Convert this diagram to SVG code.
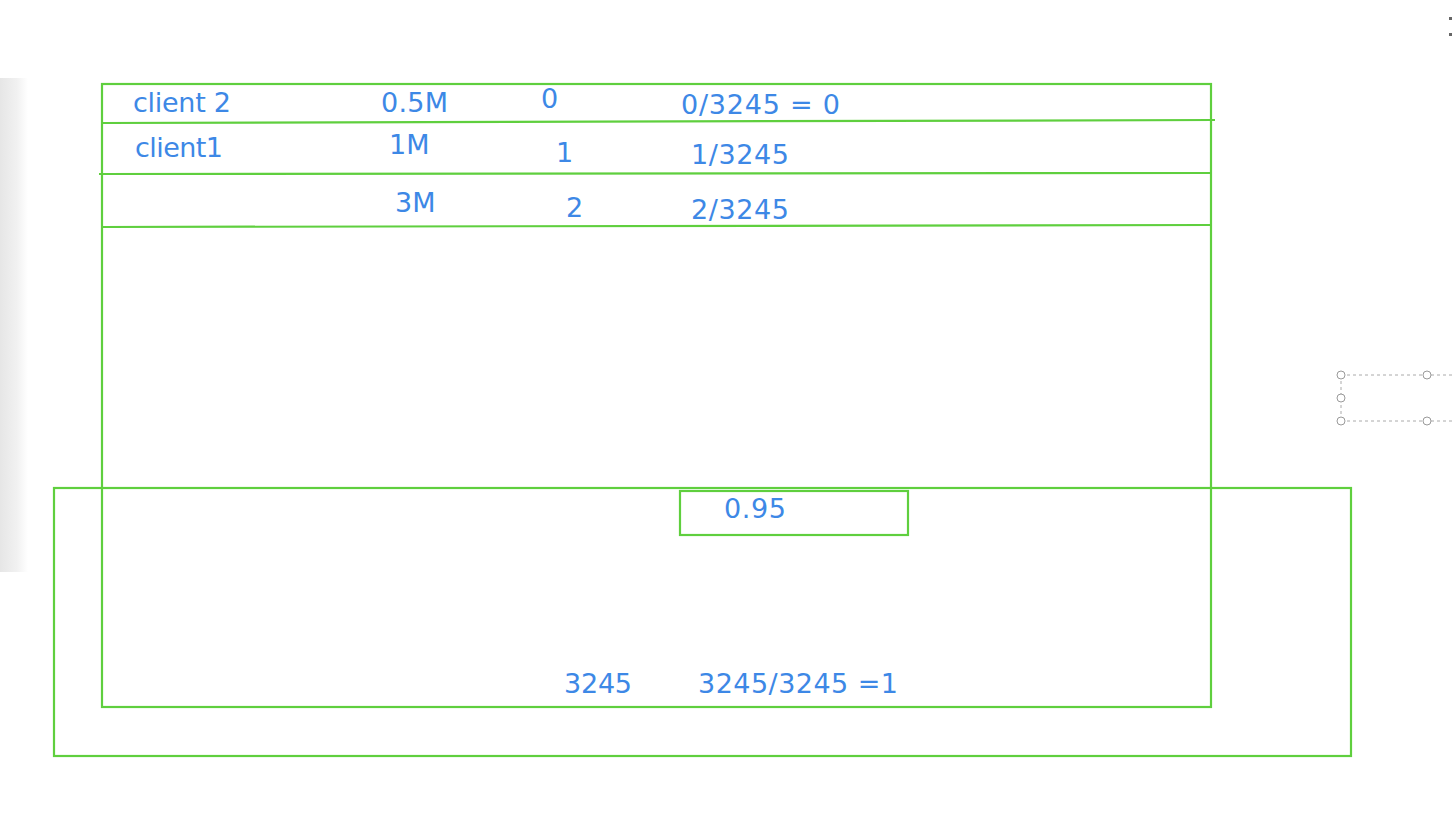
<svg xmlns="http://www.w3.org/2000/svg" width="1452" height="819" viewBox="0 0 1452 819">
<defs>
<style>
.g{fill:none;stroke:#5fcf3e;stroke-width:2.2}
.t{font-family:"DejaVu Sans","Verdana",sans-serif;font-size:27px;fill:#3d88e6}
.h{fill:#fff;stroke:#9a9a9a;stroke-width:1}
.d{stroke:#aaa;stroke-width:1;stroke-dasharray:3 3;fill:none}
</style>
<linearGradient id="sh" x1="0" x2="1" y1="0" y2="0">
<stop offset="0" stop-color="#e6e6e6"/>
<stop offset="0.6" stop-color="#f1f1f1"/>
<stop offset="1" stop-color="#ffffff"/>
</linearGradient>
</defs>
<rect width="1452" height="819" fill="#ffffff"/>
<rect x="0" y="78" width="28" height="494" fill="url(#sh)"/>

<g id="outer-box"><rect class="g" x="54" y="488" width="1297" height="268"/></g>
<g id="table">
<rect class="g" x="102" y="84" width="1109" height="623"/>
</g>
<g id="connectors">
<path class="g" d="M102 123 L1215 120"/>
<path class="g" d="M99 174 L1211 173"/>
<path class="g" d="M102 227 L1211 225"/>
</g>
<g id="row0">
<text class="t" x="133" y="112" textLength="98" lengthAdjust="spacing">client 2</text>
<text class="t" x="381" y="112" textLength="67" lengthAdjust="spacing">0.5M</text>
<text class="t" x="541" y="108">0</text>
<text class="t" x="681" y="114" textLength="159" lengthAdjust="spacing">0/3245 = 0</text>
</g>
<g id="row1">
<text class="t" x="135" y="157" textLength="88" lengthAdjust="spacing">client1</text>
<text class="t" x="389" y="154">1M</text>
<text class="t" x="556" y="162">1</text>
<text class="t" x="691" y="164" textLength="98" lengthAdjust="spacing">1/3245</text>
</g>
<g id="row2">
<text class="t" x="395" y="212">3M</text>
<text class="t" x="566" y="217">2</text>
<text class="t" x="691" y="219" textLength="98" lengthAdjust="spacing">2/3245</text>
</g>
<g id="value-box">
<rect class="g" x="680" y="491" width="228" height="44"/>
<text class="t" x="724" y="518" textLength="62" lengthAdjust="spacing">0.95</text>
</g>
<g id="last-row">
<text class="t" x="564" y="693" textLength="68" lengthAdjust="spacing">3245</text>
<text class="t" x="698" y="693" textLength="200" lengthAdjust="spacing">3245/3245 =1</text>
</g>
<g id="selection-handles">
<path class="d" d="M1341 375 H1452 M1341 421 H1452 M1341 375 V421"/>
<circle class="h" cx="1341" cy="375" r="4"/>
<circle class="h" cx="1427" cy="375" r="4"/>
<circle class="h" cx="1341" cy="398" r="4"/>
<circle class="h" cx="1341" cy="421" r="4"/>
<circle class="h" cx="1427" cy="421" r="4"/>
<rect x="1449" y="17" width="3" height="3" fill="#666"/>
<rect x="1449" y="33" width="3" height="3" fill="#666"/>
</g>
</svg>
